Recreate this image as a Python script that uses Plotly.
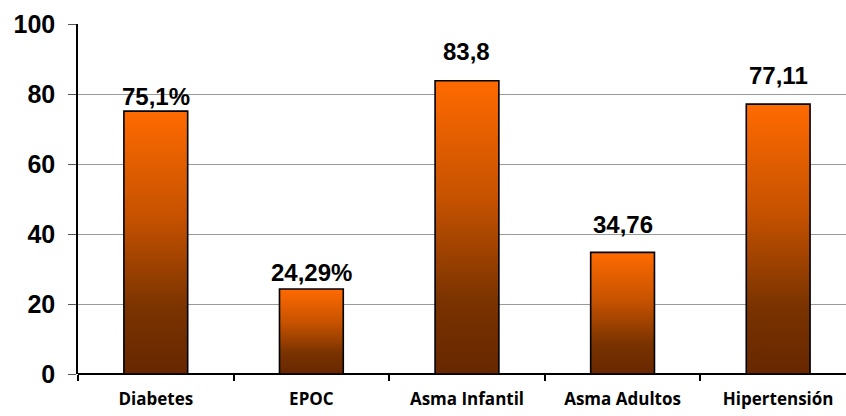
import plotly.graph_objects as go

# Prevalence by condition
categories = ["Diabetes", "EPOC", "Asma Infantil", "Asma Adultos", "Hipertensión"]
values = [75.1, 24.29, 83.8, 34.76, 77.11]
value_labels = ["75,1%", "24,29%", "83,8", "34,76", "77,11"]
label_shift = [15, 16, 29, 28, 29]  # vertical offset (px) of each value label above its bar

y_ticks = [0, 20, 40, 60, 80, 100]

BAR_HALF = 0.205
GRADIENT = [[0.0, "#672700"], [0.25, "#7a3300"], [0.6, "#c65200"], [1.0, "#ff6a00"]]

fig = go.Figure()

for i, v in enumerate(values):
    fig.add_trace(go.Scatter(
        x=[i - BAR_HALF, i + BAR_HALF, i + BAR_HALF, i - BAR_HALF, i - BAR_HALF],
        y=[0, 0, v, v, 0],
        mode="lines",
        fill="toself",
        fillgradient=dict(type="vertical", colorscale=GRADIENT, start=0, stop=v),
        line=dict(color="black", width=1.6),
        name=categories[i],
        hoverinfo="skip",
        showlegend=False,
    ))

for i, (v, txt, dy) in enumerate(zip(values, value_labels, label_shift)):
    fig.add_annotation(
        x=i, y=v, text=txt, showarrow=False,
        yanchor="middle", yshift=dy,
        font=dict(family="Liberation Sans, Arial", size=24, color="black", weight="bold"),
    )

fig.update_layout(
    width=846, height=416,
    margin=dict(l=78, r=0, t=24, b=42),
    plot_bgcolor="white", paper_bgcolor="white",
    showlegend=False,
    xaxis=dict(
        range=[-0.5, 4.436], automargin=False,
        tickmode="array", tickvals=list(range(len(categories))), ticktext=categories,
        ticks="", showgrid=False, zeroline=False,
        showline=False,
        tickfont=dict(family="Open Sans", size=17, color="black", weight="bold"),
        ticklabelstandoff=13,
        minor=dict(tick0=0.5, dtick=1, ticks="outside", ticklen=6, tickwidth=1.5,
                   tickcolor="black", showgrid=False),
    ),
    yaxis=dict(
        range=[0, 100], automargin=False,
        tickmode="array", tickvals=y_ticks,
        ticks="outside", ticklen=8, tickwidth=1.2, tickcolor="#555",
        showline=True, linecolor="black", linewidth=1.5,
        showgrid=True, gridcolor="#9a9a9a", gridwidth=1,
        zeroline=True, zerolinecolor="black", zerolinewidth=1.5,
        tickfont=dict(family="Liberation Sans, Arial", size=25, color="black", weight="bold"),
        ticklabelstandoff=8,
    ),
)

fig.write_html("out.html")
